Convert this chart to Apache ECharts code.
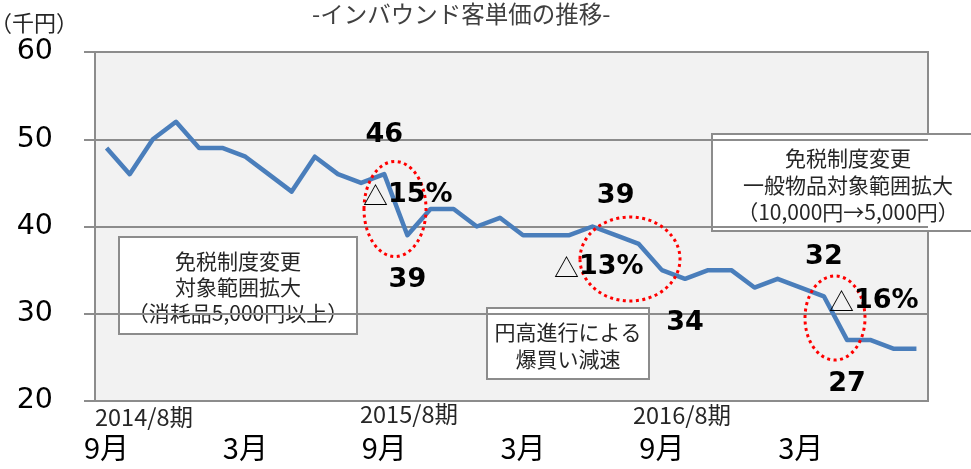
<!DOCTYPE html>
<html><head><meta charset="utf-8">
<script src="https://cdn.jsdelivr.net/npm/echarts@6/dist/echarts.min.js"></script>
<style>html,body{margin:0;padding:0;background:#fff}#c{width:971px;height:469px}</style>
</head><body><div id="c"></div>
<script>
const categories = ['2014/9','2014/10','2014/11','2014/12','2015/1','2015/2','2015/3','2015/4','2015/5','2015/6','2015/7','2015/8',
  '2015/9','2015/10','2015/11','2015/12','2016/1','2016/2','2016/3','2016/4','2016/5','2016/6','2016/7','2016/8',
  '2016/9','2016/10','2016/11','2016/12','2017/1','2017/2','2017/3','2017/4','2017/5','2017/6','2017/7','2017/8'];
const values = [49,46,50,52,49,49,48,46,44,48,46,45,
  46,39,42,42,40,41,39,39,39,40,39,38,
  35,34,35,35,33,34,33,32,27,27,26,26];
const labelTop = [12, 22, 31];
const labelBottom = [13, 25, 32];
const periodLabels = ['2014/8期','2015/8期','2016/8期'];
const dropTexts = ['15%','13%','16%'];
const box1Lines = ['免税制度変更','対象範囲拡大','（消耗品5,000円以上）'];
const box2Lines = ['円高進行による','爆買い減速'];
const box3Lines = ['免税制度変更','一般物品対象範囲拡大','（10,000円→5,000円）'];
const titleText = '-インバウンド客単価の推移-';
const unitText = '（千円）';

const JP = '"Noto Sans CJK JP", sans-serif';
const NUM = '"DejaVu Sans", sans-serif';
const GRID = '#8c8c8c';

const seriesData = values.map((v, i) => {
  if (labelTop.includes(i)) return {value: v, label: {show: true, position: 'top', distance: 26}};
  if (labelBottom.includes(i)) return {value: v, label: {show: true, position: 'bottom', distance: 31}};
  return v;
});

function jpFont(fs) { return 'normal ' + fs + 'px ' + JP; }

function boxGroup(x, y, w, h, lines, cx, firstY, lh, fs) {
  const children = [{type: 'rect', shape: {x: x, y: y, width: w, height: h},
    style: {fill: '#fff', stroke: GRID, lineWidth: 2}}];
  lines.forEach((t, k) => children.push({type: 'text', x: cx, y: firstY + k * lh,
    style: {text: t, font: jpFont(fs), fill: '#262626', align: 'center', verticalAlign: 'middle',
      textAlign: 'center', textVerticalAlign: 'middle'}}));
  return {type: 'group', z: 100, children: children};
}
function ellipse(cx, cy, rx, ry) {
  return {type: 'ellipse', z: 100, shape: {cx: cx, cy: cy, rx: rx, ry: ry},
    style: {fill: 'none', stroke: '#ff0000', lineWidth: 3, lineDash: [3, 3.5]}};
}
function drop(x, y, t) {
  return {type: 'text', z: 100, x: x, y: y, style: {
    text: '{a|△}{b|' + t + '}', verticalAlign: 'middle', textVerticalAlign: 'middle',
    rich: {a: {fontSize: 25, fontFamily: JP, fill: '#000', color: '#000'},
           b: {fontSize: 27, fontFamily: NUM, fontWeight: 'bold', fill: '#000', color: '#000'}}}};
}
function plainText(x, y, t, fs) {
  return {type: 'group', z: 100, children: [{type: 'text', x: x, y: y,
    style: {text: t, font: jpFont(fs), fill: '#262626',
      align: 'left', textAlign: 'left', verticalAlign: 'middle', textVerticalAlign: 'middle'}}]};
}

const chart = echarts.init(document.getElementById('c'));
chart.setOption({
  animation: false,
  title: {text: titleText, left: 312, top: 2, padding: 0,
    textStyle: {fontSize: 23.5, fontWeight: 'normal', fontFamily: JP, color: '#404040'}},
  grid: {left: 95, right: 43, top: 52, bottom: 68, show: true, backgroundColor: '#f2f2f2',
    borderColor: GRID, borderWidth: 2},
  xAxis: {type: 'category', data: categories, boundaryGap: true,
    axisLine: {show: true, lineStyle: {color: GRID, width: 2}},
    axisTick: {show: false},
    axisLabel: {interval: (i) => i % 6 === 0, margin: 32, fontSize: 29, fontFamily: JP, color: '#000',
      formatter: (v) => v.split('/')[1] + '月'}},
  yAxis: {type: 'value', min: 20, max: 60, interval: 10,
    axisLine: {show: true, lineStyle: {color: GRID, width: 2}},
    axisTick: {show: true, length: 11, lineStyle: {color: GRID, width: 2}},
    splitLine: {show: true, lineStyle: {color: GRID, width: 2}},
    axisLabel: {margin: 42, fontSize: 28.5, fontFamily: NUM, color: '#000'}},
  series: [{type: 'line', data: seriesData, symbol: 'circle', symbolSize: 0, showSymbol: true, smooth: false,
    lineStyle: {color: '#4a7ebb', width: 4.5, join: 'round'},
    itemStyle: {color: '#4a7ebb'},
    label: {show: false, formatter: '{c}', fontFamily: NUM, fontWeight: 'bold', fontSize: 27, color: '#000'}}],
  graphic: [
    plainText(-10, 23, unitText, 22),
    plainText(95, 417, periodLabels[0], 23.5),
    plainText(360, 414, periodLabels[1], 23.5),
    plainText(633, 415, periodLabels[2], 23.5),
    boxGroup(119, 237, 238, 97, box1Lines, 238, 261, 26, 21),
    boxGroup(487, 308, 162, 71, box2Lines, 568, 332, 27, 21),
    boxGroup(712, 134, 265, 97, box3Lines, 848, 158, 27, 21),
    ellipse(395, 209, 31, 47.5),
    ellipse(630, 259, 50, 42),
    ellipse(835, 318, 30, 42),
    drop(363, 195, dropTexts[0]),
    drop(554, 267, dropTexts[1]),
    drop(829, 301, dropTexts[2])
  ]
});
</script></body></html>
